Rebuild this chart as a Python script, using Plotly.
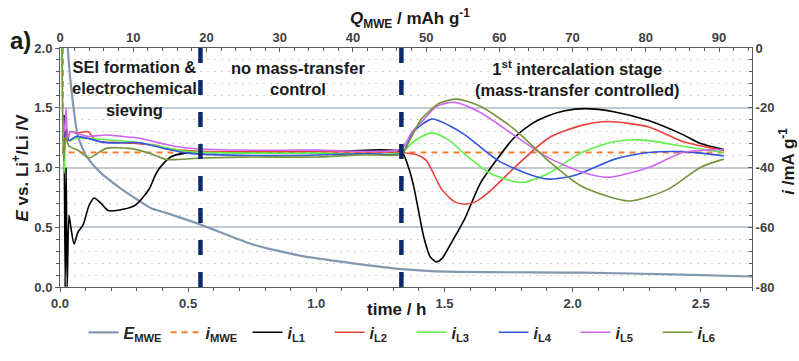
import plotly.graph_objects as go

# ---------------- data ----------------
# working-electrode potential E_MWE (V vs. Li+/Li) over time (h)
t_E = [0.025, 0.031, 0.051, 0.070, 0.102, 0.152, 0.246, 0.324, 0.355, 0.414, 0.551,
       0.746, 0.941, 1.137, 1.332, 1.516, 2.035, 2.426, 2.70]
E_mwe = [2.40, 1.98, 1.53, 1.26, 1.10, 0.97, 0.81, 0.70, 0.66, 0.62, 0.52,
         0.36, 0.26, 0.20, 0.15, 0.128, 0.12, 0.104, 0.088]

# applied current of the whole electrode (mA g-1)
t_imwe = [0.011, 0.012, 2.60]
i_mwe = [0, -35, -35]

# local currents i_L1 ... i_L6 (mA g-1)
t_L1 = [0.016, 0.020, 0.024, 0.028, 0.035, 0.043, 0.055, 0.070, 0.090, 0.113, 0.133,
        0.160, 0.188, 0.246, 0.297, 0.348, 0.375, 0.402, 0.434, 0.49, 0.8, 1.1, 1.332,
        1.36, 1.38, 1.40, 1.42, 1.445, 1.469, 1.49, 1.51, 1.545, 1.58, 1.64, 1.71, 1.77,
        1.84, 1.905, 1.97, 2.047, 2.165, 2.296, 2.43, 2.50, 2.59]
i_L1 = [-22.4, -80, -40, -80, -56, -60.4, -65.6, -61.6, -59.2, -52.8, -50.2,
        -52.0, -54.4, -54.0, -52.4, -47.2, -42.0, -38.8, -36.4, -35.2, -34.6, -34.5, -34.8,
        -40.0, -46.3, -55.0, -63.5, -70.0, -71.6, -70.5, -67.8, -62.5, -57.0, -45.3, -36.7, -30.2,
        -25.4, -22.7, -21.0, -20.3, -21.4, -24.3, -29.0, -32.0, -34.0]

t_L2 = [0.015, 0.020, 0.025, 0.030, 0.040, 0.063, 0.11, 0.14, 0.246, 0.375, 0.414, 0.55,
        1.0, 1.332, 1.40, 1.43, 1.49, 1.54, 1.58, 1.62, 1.67, 1.775, 1.905, 2.035, 2.14,
        2.30, 2.43, 2.59]
i_L2 = [-25.0, -32.0, -27.0, -31.0, -28.0, -28.5, -28.0, -31.0, -31.7, -32.6, -33.6, -34.6,
        -34.7, -35.0, -36.0, -37.7, -47.4, -51.5, -52.3, -51.5, -48.5, -39.9, -30.2, -25.9, -24.6,
        -26.5, -31.3, -34.3]

t_L3 = [0.008, 0.016, 0.025, 0.040, 0.063, 0.18, 0.31, 0.414, 0.50, 0.75, 1.0, 1.332,
        1.38, 1.45, 1.52, 1.58, 1.68, 1.80, 1.905, 2.035, 2.165, 2.27, 2.43, 2.59]
i_L3 = [0.0, -42.0, -30.0, -31.0, -30.2, -30.7, -31.7, -33.3, -34.7, -35.2, -35.2, -35.0,
        -31.3, -28.4, -31.0, -35.6, -42.0, -45.0, -42.0, -35.0, -31.3, -30.75, -32.9, -35.0]

t_L4 = [0.018, 0.025, 0.035, 0.063, 0.18, 0.31, 0.414, 0.50, 0.75, 1.0, 1.2, 1.332,
        1.38, 1.45, 1.52, 1.58, 1.71, 1.84, 1.905, 2.01, 2.165, 2.296, 2.43, 2.59]
i_L4 = [-30.0, -27.0, -31.0, -29.6, -31.7, -31.7, -33.8, -35.2, -36.0, -35.8, -35.3, -35.3,
        -28.0, -23.8, -26.0, -29.1, -37.7, -42.6, -43.9, -42.6, -37.2, -35.0, -34.7, -36.1]

t_L5 = [0.018, 0.024, 0.030, 0.040, 0.063, 0.11, 0.18, 0.246, 0.31, 0.414, 0.48, 0.6,
        1.0, 1.332, 1.37, 1.41, 1.47, 1.54, 1.64, 1.77, 1.905, 2.035, 2.14, 2.30, 2.43, 2.59]
i_L5 = [-28.0, -20.0, -30.0, -28.0, -28.5, -29.6, -29.1, -29.6, -30.2, -32.3, -33.3, -34.0,
        -34.2, -33.7, -28.5, -24.8, -19.5, -18.2, -21.6, -29.1, -36.7, -41.5, -43.3, -39.9, -35.0, -34.0]

t_L6 = [0.008, 0.014, 0.022, 0.035, 0.074, 0.113, 0.18, 0.27, 0.348, 0.414, 0.55, 0.75,
        1.0, 1.2, 1.332, 1.37, 1.41, 1.48, 1.55, 1.64, 1.77, 1.905, 2.035, 2.22, 2.37, 2.50, 2.59]
i_L6 = [0.0, -38.0, -30.0, -32.8, -34.4, -36.8, -33.6, -33.6, -35.2, -37.3, -36.8, -36.5,
        -36.5, -35.7, -35.5, -30.0, -23.8, -18.5, -17.1, -19.5, -27.0, -37.7, -46.3, -51.2, -47.4, -39.9, -37.2]

# stage boundaries (h)
t_stage = [0.548, 1.332]
i_mwe_abs = 35.0  # mA g-1, converts time to specific charge on the top axis

# ---------------- styling ----------------
FONT = "Liberation Sans, Arial, sans-serif"
AX = "#595959"
TXT = "#404040"

fig = go.Figure()

fig.add_trace(go.Scatter(x=t_E, y=E_mwe, mode="lines", name="<b><i>E</i><sub>MWE</sub></b>",
                         line=dict(color="#8497b0", width=2.2, shape="spline", smoothing=0.6),
                         xaxis="x", yaxis="y"))
fig.add_trace(go.Scatter(x=t_imwe, y=i_mwe, mode="lines", name="<b><i>i</i><sub>MWE</sub></b>",
                         line=dict(color="#f07f2f", width=2, dash="6px,5px"),
                         xaxis="x", yaxis="y2"))

locals_ = [
    (t_L1, i_L1, "#000000", "L1"),
    (t_L2, i_L2, "#e8413a", "L2"),
    (t_L3, i_L3, "#5ef24a", "L3"),
    (t_L4, i_L4, "#3355dd", "L4"),
    (t_L5, i_L5, "#cc66ee", "L5"),
    (t_L6, i_L6, "#77933c", "L6"),
]
for tx, iy, col, lab in locals_:
    fig.add_trace(go.Scatter(x=tx, y=iy, mode="lines", name=f"<b><i>i</i><sub>{lab}</sub></b>",
                             line=dict(color=col, width=1.6, shape="spline", smoothing=0.7),
                             xaxis="x", yaxis="y2"))

t_max = 2.7
# the specific-charge axis carries the same time span, scaled by the applied current
fig.add_trace(go.Scatter(x=[0, t_max * i_mwe_abs], y=[None, None], mode="lines",
                         showlegend=False, hoverinfo="skip", xaxis="x2", yaxis="y"))

tickfont = dict(family=FONT, size=13, color=TXT, weight="bold")

fig.update_layout(
    width=799, height=361,
    margin=dict(l=60, r=47, t=48, b=63),
    paper_bgcolor="white", plot_bgcolor="white",
    font=dict(family=FONT, color=TXT),
    showlegend=True,
    legend=dict(orientation="h", x=0.034, y=-0.19, xanchor="left", yanchor="middle",
                font=dict(family=FONT, size=16, color="#262626"), itemwidth=30,
                entrywidth=37, entrywidthmode="pixels",
                bgcolor="rgba(0,0,0,0)"),
    xaxis=dict(range=[0, t_max], tickvals=[0, 0.5, 1.0, 1.5, 2.0, 2.5], tickformat=".1f",
               ticks="outside", ticklen=4, tickcolor=AX, showline=True, linecolor=AX, linewidth=1,
               showgrid=False, zeroline=False, tickfont=tickfont,
               minor=dict(dtick=0.1, ticks="outside", ticklen=3, tickcolor=AX, showgrid=False)),
    xaxis2=dict(range=[0, t_max * i_mwe_abs], overlaying="x", side="top", anchor="y",
                tickvals=list(range(0, 100, 10)), ticks="inside", ticklen=4, tickcolor=AX,
                showline=True, linecolor=AX, linewidth=1, showgrid=False, zeroline=False,
                tickfont=tickfont,
                minor=dict(dtick=2, ticks="inside", ticklen=3, tickcolor=AX, showgrid=False)),
    yaxis=dict(range=[0, 2.0], tickvals=[0, 0.5, 1.0, 1.5, 2.0], tickformat=".1f",
               ticks="outside", ticklen=4, tickcolor=AX, showline=True, linecolor=AX, linewidth=1,
               showgrid=True, gridcolor="#c2cad2", gridwidth=1.5, zeroline=False, tickfont=tickfont,
               minor=dict(dtick=0.1, ticks="outside", ticklen=3, tickcolor=AX, showgrid=True,
                          gridcolor="#cfcfcf", gridwidth=1.2, griddash="2px,5px")),
    yaxis2=dict(range=[-80, 0], overlaying="y", side="right", anchor="x",
                tickvals=[0, -20, -40, -60, -80], ticktext=["0", "-20", "-40", "-60", "-80"],
                ticks="inside", ticklen=4, tickcolor=AX, showline=True, linecolor=AX, linewidth=1,
                showgrid=False, zeroline=False, tickfont=tickfont,
                minor=dict(dtick=4, ticks="inside", ticklen=3, tickcolor=AX, showgrid=False)),
)

# stage boundaries
for ts in t_stage:
    fig.add_shape(type="line", xref="x", yref="paper", x0=ts, x1=ts, y0=1.0, y1=-0.05,
                  line=dict(color="#0c2a6a", width=4.5, dash="15px,17px"), layer="above")

ann_font = dict(family=FONT, size=16.5, color="#1a1a1a", weight="bold")
anns = [
    dict(x=(134 - 60) / 692, y=(298 - 90) / 250, text="SEI formation &amp;<br>electrochemical<br>sieving"),
    dict(x=(298 - 60) / 692, y=(298 - 80) / 250, text="no mass-transfer<br>control"),
    dict(x=(577 - 60) / 692, y=(298 - 80) / 250,
         text="1<sup>st</sup> intercalation stage<br>(mass-transfer controlled)"),
]
for a in anns:
    fig.add_annotation(xref="paper", yref="paper", showarrow=False, font=ann_font,
                       align="center", xanchor="center", yanchor="middle", **a)

title_font = dict(family=FONT, size=17, color="#1a1a1a", weight="bold")
fig.add_annotation(xref="paper", yref="paper", x=(397 - 60) / 692, y=-(322 - 298) / 250,
                   text="time / h", showarrow=False, font=title_font,
                   xanchor="center", yanchor="middle")
fig.add_annotation(xref="paper", yref="paper", x=(410 - 60) / 692, y=(298 - 17) / 250,
                   text="<i>Q</i><sub>MWE</sub> / mAh g<sup>-1</sup>", showarrow=False, font=title_font,
                   xanchor="center", yanchor="middle")
fig.add_annotation(xref="paper", yref="paper", x=(20 - 60) / 692, y=(298 - 173) / 250,
                   text="<i>E</i> vs. Li<sup>+</sup>/Li /V", showarrow=False, font=title_font,
                   textangle=-90, xanchor="center", yanchor="middle")
fig.add_annotation(xref="paper", yref="paper", x=(787 - 60) / 692, y=(298 - 167) / 250,
                   text="<i>i</i> /mA g<sup>-1</sup>", showarrow=False, font=title_font,
                   textangle=-90, xanchor="center", yanchor="middle")
fig.add_annotation(xref="paper", yref="paper", x=(20 - 60) / 692, y=(298 - 40) / 250,
                   text="a)", showarrow=False, font=dict(family=FONT, size=24, color="#1a1a1a", weight="bold"),
                   xanchor="center", yanchor="middle")

fig.write_html("out.html")
